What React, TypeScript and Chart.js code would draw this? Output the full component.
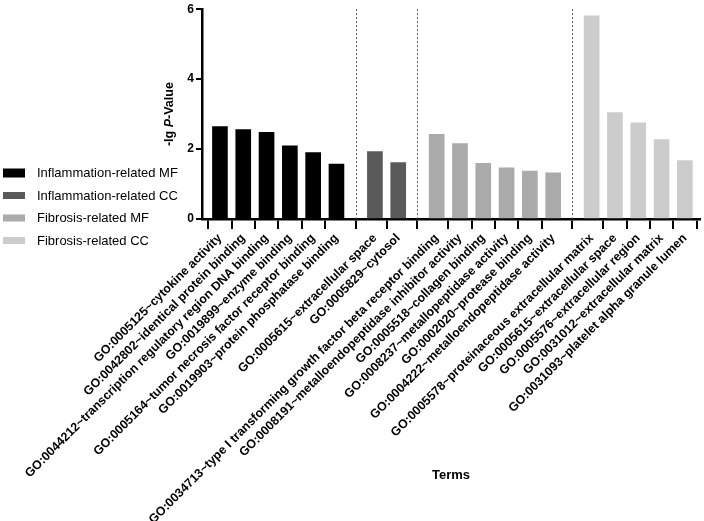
import React, { useEffect, useRef } from 'react';
import { Chart, registerables } from 'chart.js';

Chart.register(...registerables);

// ---------- data ----------
const groupNames = [
  'Inflammation-related MF',
  'Inflammation-related CC',
  'Fibrosis-related MF',
  'Fibrosis-related CC',
];
const groupColors = ['#000000', '#5a5a5a', '#aaaaaa', '#cccccc'];

const inflMFTerms = [
  'GO:0005125~cytokine activity',
  'GO:0042802~identical protein binding',
  'GO:0044212~transcription regulatory region DNA binding',
  'GO:0019899~enzyme binding',
  'GO:0005164~tumor necrosis factor receptor binding',
  'GO:0019903~protein phosphatase binding',
];
const inflMFValues = [2.64, 2.56, 2.48, 2.09, 1.9, 1.57];

const inflCCTerms = ['GO:0005615~extracellular space', 'GO:0005829~cytosol'];
const inflCCValues = [1.93, 1.61];

const fibMFTerms = [
  'GO:0034713~type I transforming growth factor beta receptor binding',
  'GO:0008191~metalloendopeptidase inhibitor activity',
  'GO:0005518~collagen binding',
  'GO:0008237~metallopeptidase activity',
  'GO:0002020~protease binding',
  'GO:0004222~metalloendopeptidase activity',
];
const fibMFValues = [2.42, 2.16, 1.59, 1.46, 1.37, 1.32];

const fibCCTerms = [
  'GO:0005578~proteinaceous extracellular matrix',
  'GO:0005615~extracellular space',
  'GO:0005576~extracellular region',
  'GO:0031012~extracellular matrix',
  'GO:0031093~platelet alpha granule lumen',
];
const fibCCValues = [5.81, 3.04, 2.75, 2.27, 1.67];

const yTickValues = [0, 2, 4, 6];
const xTitle = 'Terms';

const groupTerms = [inflMFTerms, inflCCTerms, fibMFTerms, fibCCTerms];
const groupValues = [inflMFValues, inflCCValues, fibMFValues, fibCCValues];

const FONT = '"Liberation Sans", Arial, Helvetica, sans-serif';

export default function App() {
  const canvasRef = useRef<HTMLCanvasElement | null>(null);

  useEffect(() => {
    document.body.style.margin = '0';
    const canvas = canvasRef.current;
    if (!canvas) return;

    // build positions: groups separated by an extra gap
    const GAP = 0.65;
    const positions: number[] = [];
    const labels: string[] = [];
    const separators: number[] = [];
    let cursor = 0;
    const datasets = groupNames.map((name, g) => {
      const pts = groupValues[g].map((v, i) => {
        const x = cursor;
        positions.push(x);
        labels.push(groupTerms[g][i]);
        cursor += 1;
        return { x, y: v };
      });
      if (g < groupNames.length - 1) {
        separators.push(cursor - 1 + (1 + GAP) / 2);
      }
      cursor += GAP;
      return {
        label: name,
        data: pts,
        backgroundColor: groupColors[g],
        borderWidth: 0,
        barThickness: 15,
        grouped: false,
      };
    });
    const lastPos = positions[positions.length - 1];

    const decor = {
      id: 'decor',
      beforeDatasetsDraw(chart: any) {
        const { ctx, chartArea } = chart;
        const xs = chart.scales.x;
        ctx.save();
        ctx.strokeStyle = '#555555';
        ctx.lineWidth = 1;
        ctx.setLineDash([2, 2]);
        separators.forEach((s) => {
          const px = Math.round(xs.getPixelForValue(s)) + 0.5;
          ctx.beginPath();
          ctx.moveTo(px, chartArea.top);
          ctx.lineTo(px, chartArea.bottom);
          ctx.stroke();
        });
        ctx.restore();
      },
      afterDraw(chart: any) {
        const { ctx, chartArea } = chart;
        ctx.save();
        // legend
        ctx.textBaseline = 'middle';
        ctx.textAlign = 'left';
        ctx.font = `13px ${FONT}`;
        chart.data.datasets.forEach((ds: any, i: number) => {
          const cy = chartArea.bottom - 46 + i * 22.5;
          ctx.fillStyle = ds.backgroundColor;
          const h = i === 0 ? 9 : 7;
          ctx.fillRect(3, cy - h / 2, 22, h);
          ctx.fillStyle = '#000000';
          ctx.fillText(ds.label, 37, cy + 0.5);
        });
        // y title: "-lg P-Value" with italic P
        const cx = 170;
        const cyT = (chartArea.top + chartArea.bottom) / 2;
        const parts = [
          { t: '-lg ', f: `bold 12.5px ${FONT}` },
          { t: 'P', f: `italic bold 12.5px ${FONT}` },
          { t: '-Value', f: `bold 12.5px ${FONT}` },
        ];
        let total = 0;
        parts.forEach((p) => {
          ctx.font = p.f;
          total += ctx.measureText(p.t).width;
        });
        ctx.translate(cx, cyT);
        ctx.rotate(-Math.PI / 2);
        let off = -total / 2;
        ctx.fillStyle = '#000000';
        parts.forEach((p) => {
          ctx.font = p.f;
          ctx.fillText(p.t, off, 0);
          off += ctx.measureText(p.t).width;
        });
        ctx.setTransform(1, 0, 0, 1, 0, 0);
        // x title
        ctx.font = `bold 13px ${FONT}`;
        ctx.textAlign = 'center';
        ctx.fillText(xTitle, (chartArea.left + chartArea.right) / 2, chartArea.bottom + 256);
        ctx.restore();
      },
    };

    const chart = new Chart(canvas, {
      type: 'bar',
      data: { datasets: datasets as any },
      options: {
        animation: false,
        responsive: true,
        maintainAspectRatio: false,
        layout: { padding: { left: 160, right: 4, top: 7, bottom: 0 } },
        plugins: {
          legend: { display: false },
          tooltip: { enabled: false },
        },
        scales: {
          x: {
            type: 'linear',
            min: -0.77,
            max: lastPos + 0.65,
            offset: false,
            afterBuildTicks: (scale: any) => {
              scale.ticks = positions.map((v) => ({ value: v }));
            },
            afterFit: (scale: any) => {
              scale.height = 302;
            },
            ticks: {
              autoSkip: false,
              minRotation: 45,
              maxRotation: 45,
              padding: 2,
              color: '#000000',
              font: { family: FONT, size: 12.4, weight: 'bold' },
              callback: (_v: any, i: number) => labels[i],
            },
            grid: {
              drawOnChartArea: false,
              drawTicks: true,
              tickLength: 10,
              color: '#000000',
              lineWidth: 2,
            },
            border: { display: true, color: '#000000', width: 2.5 },
          },
          y: {
            min: 0,
            max: 6,
            afterBuildTicks: (scale: any) => {
              scale.ticks = yTickValues.map((v) => ({ value: v }));
            },
            afterFit: (scale: any) => {
              scale.width = 42;
            },
            ticks: {
              padding: 2,
              color: '#000000',
              font: { family: FONT, size: 12, weight: 'bold' },
            },
            grid: {
              drawOnChartArea: false,
              drawTicks: true,
              tickLength: 6,
              color: '#000000',
              lineWidth: 2,
            },
            border: { display: true, color: '#000000', width: 2.5 },
          },
        },
      },
      plugins: [decor],
    });

    return () => chart.destroy();
  }, []);

  return (
    <div style={{ position: 'relative', width: 704, height: 521 }}>
      <canvas ref={canvasRef} />
    </div>
  );
}
